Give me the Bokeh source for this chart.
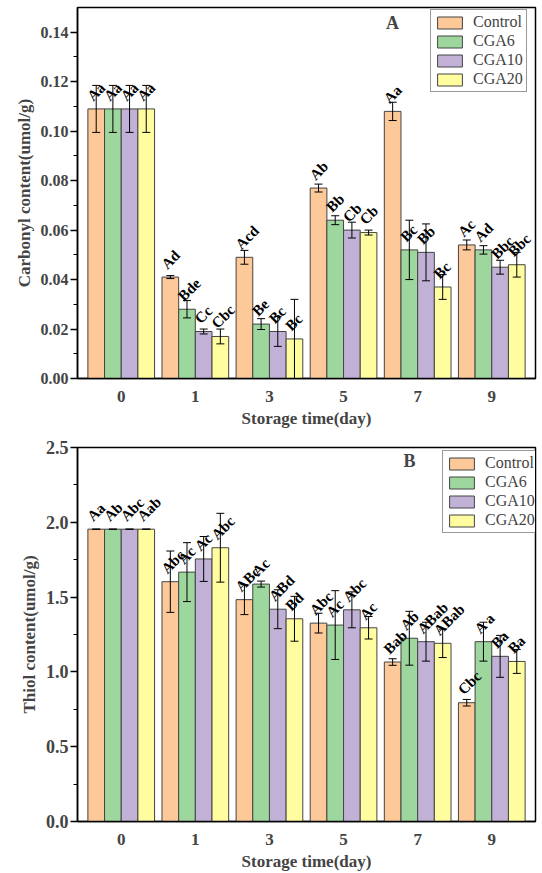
from bokeh.plotting import figure
from bokeh.layouts import column
from bokeh.models import (ColumnDataSource, FactorRange, Range1d, FixedTicker,
                          PrintfTickFormatter, Label, Legend, LegendItem, LabelSet)
from bokeh.transform import dodge
from bokeh.embed import file_html
from bokeh.resources import INLINE

days = ["0", "1", "3", "5", "7", "9"]
groups = ["Control", "CGA6", "CGA10", "CGA20"]
colors = ["#FDC998", "#9DD79D", "#C2B1D7", "#FFFDA0"]

# Carbonyl content (umol/g)
carb_control = [0.109, 0.041, 0.049, 0.077, 0.108, 0.054]
carb_cga6 = [0.109, 0.028, 0.022, 0.064, 0.052, 0.052]
carb_cga10 = [0.109, 0.019, 0.019, 0.060, 0.051, 0.045]
carb_cga20 = [0.109, 0.017, 0.016, 0.059, 0.037, 0.046]
carb_control_err = [0.0095, 0.0006, 0.0028, 0.0016, 0.0037, 0.0020]
carb_cga6_err = [0.0095, 0.0035, 0.0022, 0.0018, 0.0120, 0.0017]
carb_cga10_err = [0.0095, 0.0010, 0.0060, 0.0032, 0.0115, 0.0028]
carb_cga20_err = [0.0095, 0.0030, 0.0160, 0.0010, 0.0050, 0.0050]
carb_control_lab = ["Aa", "Ad", "Acd", "Ab", "Aa", "Ac"]
carb_cga6_lab = ["Aa", "Bde", "Be", "Bb", "Bc", "Ad"]
carb_cga10_lab = ["Aa", "Cc", "Bc", "Cb", "Bb", "Bbc"]
carb_cga20_lab = ["Aa", "Cbc", "Bc", "Cb", "Bc", "Bbc"]
carb_ticks = [0.00, 0.02, 0.04, 0.06, 0.08, 0.10, 0.12, 0.14]
carb_minor = [0.01, 0.03, 0.05, 0.07, 0.09, 0.11, 0.13]

# Thiol content (umol/g)
thiol_control = [1.954, 1.603, 1.483, 1.326, 1.066, 0.794]
thiol_cga6 = [1.954, 1.667, 1.587, 1.313, 1.225, 1.202]
thiol_cga10 = [1.954, 1.755, 1.419, 1.415, 1.202, 1.104]
thiol_cga20 = [1.954, 1.830, 1.355, 1.295, 1.191, 1.070]
thiol_control_err = [0.0, 0.205, 0.100, 0.066, 0.022, 0.022]
thiol_cga6_err = [0.0, 0.197, 0.020, 0.230, 0.180, 0.130]
thiol_cga10_err = [0.0, 0.150, 0.130, 0.120, 0.130, 0.140]
thiol_cga20_err = [0.0, 0.230, 0.150, 0.075, 0.095, 0.080]
thiol_control_lab = ["Aa", "Abc", "ABc", "Abc", "Bab", "Cbc"]
thiol_cga6_lab = ["Ab", "Ac", "Ac", "Ac", "Ab", "A a"]
thiol_cga10_lab = ["Abc", "Ac", "ABd", "Abc", "ABab", "Ba"]
thiol_cga20_lab = ["Aab", "Abc", "Bd", "Ac", "ABab", "Ba"]
thiol_ticks = [0.0, 0.5, 1.0, 1.5, 2.0, 2.5]
thiol_minor = [0.25, 0.75, 1.25, 1.75, 2.25]

FONT = "Liberation Serif"
offsets = [-0.3375, -0.1125, 0.1125, 0.3375]
BW = 0.225


def make_panel(vals, errs, labs, ymax, ticks, minor, fmt, ylabel, letter,
               height, bl, bt, bb, ytick_size, leg_loc, letter_x, letter_y):
    p = figure(width=542, height=height, output_backend="svg", toolbar_location=None,
               x_range=FactorRange(factors=days, range_padding=0.09,
                                   range_padding_units="absolute"),
               y_range=Range1d(0, ymax),
               min_border_left=bl, min_border_right=7, min_border_top=bt,
               min_border_bottom=bb)
    p.xgrid.visible = False
    p.ygrid.visible = False
    p.outline_line_color = "black"
    p.outline_line_width = 1.5
    p.background_fill_color = "white"

    items = []
    for i, g in enumerate(groups):
        v = vals[i]
        e = errs[i]
        src = ColumnDataSource(dict(
            day=days, val=v,
            up=[a + b for a, b in zip(v, e)],
            lo=[a - b for a, b in zip(v, e)],
            lab=labs[i]))
        xd = dodge("day", offsets[i], range=p.x_range)
        r = p.vbar(x=xd, top="val", width=BW, source=src, fill_color=colors[i],
                   line_color="#444444", line_width=1)
        items.append(LegendItem(label=g, renderers=[r]))
        # error bars
        p.segment(x0=xd, y0="lo", x1=xd, y1="up", source=src,
                  line_color="black", line_width=1)
        p.scatter(x=xd, y="up", source=src, marker="dash", size=8,
                  line_color="black", line_width=1)
        p.scatter(x=xd, y="lo", source=src, marker="dash", size=8,
                  line_color="black", line_width=1)
        ls = LabelSet(x=dodge("day", offsets[i] - 0.01, range=p.x_range), y="val",
                      text="lab", source=src, angle=45, angle_units="deg",
                      text_align="left", text_baseline="bottom", y_offset=5,
                      text_font=FONT, text_font_style="bold",
                      text_font_size="15px", text_color="black")
        p.add_layout(ls)

    leg = Legend(items=items, location=leg_loc, label_text_font=FONT,
                 label_text_font_size="16px", glyph_width=31, glyph_height=15,
                 label_height=15, spacing=1, padding=3, label_standoff=8,
                 border_line_color="#333333", border_line_width=1,
                 background_fill_alpha=1.0)
    p.add_layout(leg)

    p.add_layout(Label(x=letter_x, y=letter_y, x_units="screen", y_units="screen",
                       text=letter, text_font=FONT, text_font_style="bold",
                       text_font_size="18px", text_align="center",
                       text_baseline="middle"))

    ya = p.yaxis[0]
    ya.ticker = FixedTicker(ticks=ticks, minor_ticks=minor)
    ya.formatter = PrintfTickFormatter(format=fmt)
    ya.axis_label = ylabel
    ya.axis_label_text_font = FONT
    ya.axis_label_text_font_style = "bold"
    ya.axis_label_text_font_size = "17px"
    ya.axis_label_standoff = 4
    ya.major_label_text_font = FONT
    ya.major_label_text_font_style = "bold"
    ya.major_label_text_font_size = ytick_size
    ya.major_label_standoff = 2
    ya.major_tick_out = 7
    ya.major_tick_in = 0
    ya.minor_tick_out = 4
    ya.minor_tick_in = 0
    ya.axis_line_width = 1.5
    ya.major_tick_line_width = 1.5

    xa = p.xaxis[0]
    xa.axis_label = "Storage time(day)"
    xa.axis_label_text_font = FONT
    xa.axis_label_text_font_style = "bold"
    xa.axis_label_text_font_size = "17px"
    xa.axis_label_standoff = 4
    xa.major_label_text_font = FONT
    xa.major_label_text_font_style = "bold"
    xa.major_label_text_font_size = "17px"
    xa.major_label_standoff = 6
    xa.major_tick_line_color = None
    xa.axis_line_width = 1.5
    return p


p1 = make_panel([carb_control, carb_cga6, carb_cga10, carb_cga20],
                [carb_control_err, carb_cga6_err, carb_cga10_err, carb_cga20_err],
                [carb_control_lab, carb_cga6_lab, carb_cga10_lab, carb_cga20_lab],
                0.15, carb_ticks, carb_minor, "%.2f", "Carbonyl content(umol/g)", "A",
                435, 77, 7, 57, "16px", (353, 286), 392 - 77, 378 - 22)

p2 = make_panel([thiol_control, thiol_cga6, thiol_cga10, thiol_cga20],
                [thiol_control_err, thiol_cga6_err, thiol_cga10_err, thiol_cga20_err],
                [thiol_control_lab, thiol_cga6_lab, thiol_cga10_lab, thiol_cga20_lab],
                2.5, thiol_ticks, thiol_minor, "%.1f", "Thiol content(umol/g)", "B",
                438, 68, 12, 49, "18px", (365, 288), 400 - 68, 824 - 463)

layout = column(p1, p2, spacing=0)
open("out.html", "w").write(file_html(layout, INLINE))
